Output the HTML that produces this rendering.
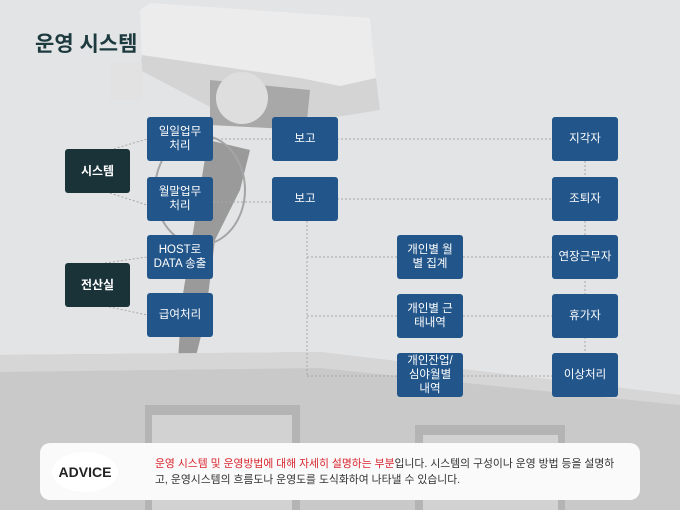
<!DOCTYPE html>
<html><head><meta charset="utf-8"><style>
body{margin:0;width:680px;height:510px;overflow:hidden;background:#e3e4e5;font-family:"Liberation Sans","Noto Sans CJK KR",sans-serif;position:relative}
.b{position:absolute;background:#22558a;color:#fff;font-size:11.5px;line-height:14px;display:flex;align-items:center;justify-content:center;text-align:center;border-radius:3px;width:66px;height:44px}
.d{background:#1a3338;font-weight:bold;font-size:12px;width:65px}
svg{position:absolute;left:0;top:0}
</style></head><body>
<svg width="680" height="510">
<polygon points="140,10 150,3 370,18 376,80 340,90 300,80 215,70 142,60" fill="#ececec"/>
<polygon points="142,55 300,78 340,86 376,78 380,110 330,118 216,110 140,70" fill="#d4d4d4"/>
<polygon points="210,80 310,90 306,130 210,125" fill="#a8a8a8"/>
<circle cx="242" cy="98" r="26" fill="#dedede"/>
<rect x="110" y="62" width="32" height="38" fill="#e2e2e2"/>
<polygon points="208,140 250,150 240,190 215,240 205,320 195,360 178,360 182,300 195,220" fill="#9a9a9a"/>
<ellipse cx="200" cy="190" rx="45" ry="55" fill="none" stroke="#a5a5a5" stroke-width="2"/>
<polygon points="0,355 320,352 680,395 680,510 0,510" fill="#c9c9c9"/>
<polygon points="0,355 320,352 680,395 680,405 320,368 0,372" fill="#d6d6d6"/>
<rect x="145" y="405" width="155" height="105" fill="#b4b4b4"/>
<rect x="152" y="415" width="140" height="95" fill="#d2d2d2"/>
<rect x="415" y="425" width="150" height="85" fill="#b4b4b4"/>
<rect x="423" y="435" width="135" height="75" fill="#d2d2d2"/>
<g stroke="#a8a8a8" stroke-width="1" stroke-dasharray="2,2" fill="none">
<line x1="110" y1="150" x2="147" y2="139"/><line x1="110" y1="193" x2="147" y2="205"/>
<line x1="105" y1="263" x2="147" y2="257"/><line x1="105" y1="306" x2="147" y2="315"/>
<line x1="213" y1="139" x2="272" y2="139"/><line x1="213" y1="202" x2="272" y2="202"/>
<line x1="337" y1="139" x2="552" y2="139"/><line x1="337" y1="199" x2="552" y2="199"/>
<line x1="307" y1="221" x2="307" y2="376"/>
<line x1="307" y1="257" x2="552" y2="257"/><line x1="307" y1="316" x2="552" y2="316"/><line x1="307" y1="376" x2="552" y2="376"/>
<line x1="585" y1="161" x2="585" y2="353"/>
</g>
</svg>
<div style="position:absolute;left:35px;top:28px;font-size:21px;font-weight:bold;color:#1d3a3f">운영 시스템</div>
<div class="b d" style="left:65px;top:149px">시스템</div>
<div class="b d" style="left:65px;top:263px">전산실</div>
<div class="b" style="left:147px;top:117px">일일업무<br>처리</div>
<div class="b" style="left:147px;top:177px">월말업무<br>처리</div>
<div class="b" style="left:147px;top:235px">HOST로<br>DATA 송출</div>
<div class="b" style="left:147px;top:293px">급여처리</div>
<div class="b" style="left:272px;top:117px">보고</div>
<div class="b" style="left:272px;top:177px">보고</div>
<div class="b" style="left:397px;top:235px">개인별 월<br>별 집계</div>
<div class="b" style="left:397px;top:294px">개인별 근<br>태내역</div>
<div class="b" style="left:397px;top:353px">개인잔업/<br>심야월별<br>내역</div>
<div class="b" style="left:552px;top:117px">지각자</div>
<div class="b" style="left:552px;top:177px">조퇴자</div>
<div class="b" style="left:552px;top:235px">연장근무자</div>
<div class="b" style="left:552px;top:294px">휴가자</div>
<div class="b" style="left:552px;top:353px">이상처리</div>
<div style="position:absolute;left:40px;top:443px;width:600px;height:57px;background:#fafafa;border-radius:10px"></div>
<div style="position:absolute;left:52px;top:452px;width:66px;height:40px;background:#fff;border-radius:50%;font-size:14px;font-weight:bold;color:#222;display:flex;align-items:center;justify-content:center">ADVICE</div>
<div style="position:absolute;left:155px;top:456px;width:470px;font-size:10.8px;line-height:16px;color:#333;white-space:nowrap"><span style="color:#d8262e">운영 시스템 및 운영방법에 대해 자세히 설명하는 부분</span>입니다. 시스템의 구성이나 운영 방법 등을 설명하<br>고, 운영시스템의 흐름도나 운영도를 도식화하여 나타낼 수 있습니다.</div>
</body></html>
